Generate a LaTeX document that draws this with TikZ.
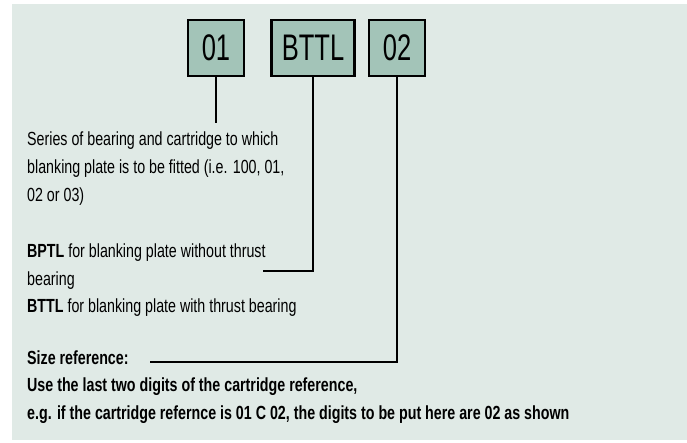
\documentclass[tikz,border=0pt]{standalone}
\usepackage{fontspec}
\setmainfont{Liberation Sans}
\definecolor{bgc}{RGB}{224,234,230}
\definecolor{boxc}{RGB}{163,196,184}
\newcommand{\bodyt}[1]{\scalebox{0.75}[1]{#1}}
\begin{document}
\begin{tikzpicture}[x=1pt,y=-1pt,
  codebox/.style={draw=black,line width=2.8pt,fill=boxc,inner sep=0pt,minimum height=56pt,
    font=\fontsize{37}{37}\selectfont},
  bodytext/.style={anchor=base west,inner sep=0pt,font=\fontsize{19}{20}\selectfont},
  conn/.style={draw=black,line width=2pt}]
\useasboundingbox (0,0) rectangle (687,442);
\fill[bgc] (12,4) rectangle (687,440);
\node[codebox,minimum width=56pt] (b1) at (216,48) {\scalebox{0.69}[1]{01}};
\node[codebox,minimum width=83pt] (b2) at (313,48) {\scalebox{0.69}[1]{BTTL}};
\node[codebox,minimum width=56pt] (b3) at (397,48) {\scalebox{0.69}[1]{02}};
\coordinate (c1) at (216,123);
\coordinate (c2) at (263,271);
\coordinate (c3) at (150,362);
\draw[conn] (b1.south) -- (c1);
\draw[conn] (b2.south) |- (c2);
\draw[conn] (b3.south) |- (c3);
\node[bodytext] (t1) at (27,145) {\bodyt{Series of bearing and cartridge to which}};
\node[bodytext] (t2) at (27,173) {\bodyt{blanking plate is to be fitted (i.e. 100, 01,}};
\node[bodytext] (t3) at (27,201) {\bodyt{02 or 03)}};
\node[bodytext] (t4) at (27,257) {\bodyt{\textbf{BPTL} for blanking plate without thrust}};
\node[bodytext] (t5) at (27,285) {\bodyt{bearing}};
\node[bodytext] (t6) at (27,312) {\bodyt{\textbf{BTTL} for blanking plate with thrust bearing}};
\node[bodytext] (t7) at (27,364) {\bodyt{\textbf{Size reference:}}};
\node[bodytext] (t8) at (27,391) {\bodyt{\textbf{Use the last two digits of the cartridge reference,}}};
\node[bodytext] (t9) at (27,419) {\bodyt{\textbf{e.g. if the cartridge refernce is 01 C 02, the digits to be put here are 02 as shown}}};
\end{tikzpicture}
\end{document}
